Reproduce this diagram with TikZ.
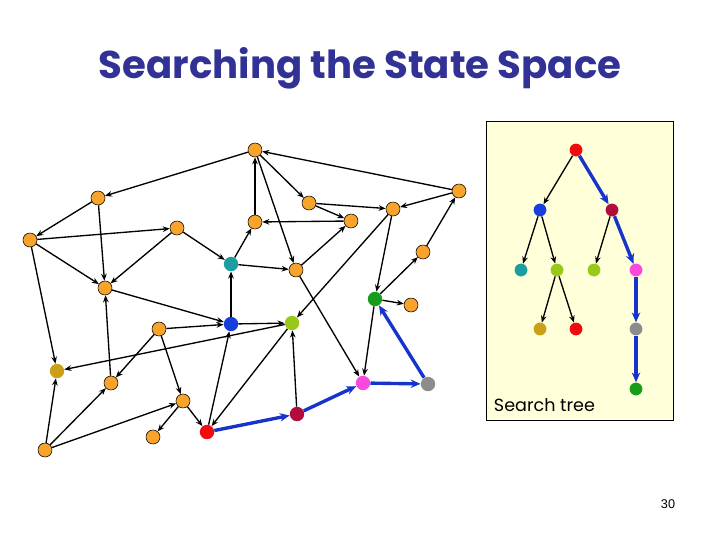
\documentclass[tikz,border=0pt]{standalone}
\usepackage{fontspec}
\setmainfont{Poppins}
\newfontfamily\numfont{Liberation Sans}
\usetikzlibrary{arrows.meta}
\definecolor{corange}{RGB}{248,164,44}
\definecolor{cteal}{RGB}{28,158,160}
\definecolor{cblue}{RGB}{22,62,222}
\definecolor{cygreen}{RGB}{152,200,24}
\definecolor{cgreen}{RGB}{22,158,26}
\definecolor{colive}{RGB}{204,160,22}
\definecolor{cpink}{RGB}{250,72,222}
\definecolor{cgray}{RGB}{140,140,140}
\definecolor{ccrim}{RGB}{178,12,60}
\definecolor{cred}{RGB}{240,12,12}
\definecolor{cpath}{RGB}{22,52,204}
\definecolor{cpaper}{RGB}{255,255,218}
\definecolor{ctitle}{RGB}{50,50,150}
\tikzstyle{corg}=[circle, draw, thin, fill=corange, inner sep=0pt, minimum size=0.35cm]
\tikzstyle{cdot}=[circle, inner sep=0pt, minimum size=0.36cm]
\tikzstyle{tdot}=[circle, inner sep=0pt, minimum size=0.32cm]
\tikzstyle{ln}=[line width=0.95pt, -{Stealth[length=5pt,width=4pt]}]
\tikzstyle{blu}=[line width=2.4pt, cpath, -{Stealth[length=7pt,width=6pt]}]

\begin{document}
\begin{tikzpicture}[x=0.025cm, y=-0.025cm]
\useasboundingbox (0,0) rectangle (720,540);

\node[text=ctitle, font=\bfseries\fontsize{27.5}{32}\selectfont] (title) at (360,68) {Searching the State Space};

% state space
\node[corg] (n1) at (255,150) {};
\node[corg] (n2) at (98,198) {};
\node[corg] (n3) at (459,191) {};
\node[corg] (n4) at (30,240) {};
\node[corg] (n5) at (177,228) {};
\node[corg] (n6) at (255,222) {};
\node[corg] (n7) at (309,203) {};
\node[corg] (n8) at (351,221) {};
\node[corg] (n9) at (393,209) {};
\node[cdot, fill=cteal] (n10) at (231,264) {};
\node[corg] (n11) at (296,270) {};
\node[corg] (n12) at (423,252) {};
\node[corg] (n13) at (105,288) {};
\node[cdot, fill=cgreen] (n14) at (375,299) {};
\node[corg] (n15) at (411,305) {};
\node[corg] (n16) at (159,329) {};
\node[cdot, fill=cblue] (n17) at (231,324) {};
\node[cdot, fill=cygreen] (n18) at (292,323) {};
\node[cdot, fill=colive] (n19) at (57,371) {};
\node[corg] (n20) at (111,383) {};
\node[corg] (n21) at (183,401) {};
\node[cdot, fill=cpink] (n22) at (363,383) {};
\node[cdot, fill=cgray] (n23) at (428,384) {};
\node[corg] (n24) at (153,437) {};
\node[cdot, fill=ccrim] (n25) at (297,414) {};
\node[cdot, fill=cred] (n26) at (207,432) {};
\node[corg] (n27) at (45,450) {};

\draw[ln] (n1) -- (n2);
\draw[ln] (n2) -- (n4);
\draw[ln] (n2) -- (n13);
\draw[ln] (n4) -- (n5);
\draw[ln] (n4) -- (n13);
\draw[ln] (n5) -- (n13);
\draw[ln] (n5) -- (n10);
\draw[ln] (n10) -- (n6);
\draw[ln] (n6) -- (n1);
\draw[ln] (n10) -- (n11);
\draw[ln] (n13) -- (n17);
\draw[ln] (n4) -- (n19);
\draw[ln] (n17) -- (n10);
\draw[ln] (n3) -- (n1);
\draw[ln] (n1) -- (n7);
\draw[ln] (n1) -- (n11);
\draw[ln] (n7) -- (n9);
\draw[ln] (n7) -- (n8);
\draw[ln] (n8) -- (n6);
\draw[ln] (n11) -- (n8);
\draw[ln] (n3) -- (n9);
\draw[ln] (n9) -- (n14);
\draw[ln] (n9) -- (n18);
\draw[ln] (n12) -- (n3);
\draw[ln] (n14) -- (n12);
\draw[ln] (n11) -- (n22);
\draw[ln] (n14) -- (n15);
\draw[ln] (n14) -- (n22);
\draw[ln] (n17) -- (n18);
\draw[ln] (n18) -- (n19);
\draw[ln] (n18) -- (n26);
\draw[ln] (n25) -- (n18);
\draw[ln] (n16) -- (n17);
\draw[ln] (n16) -- (n20);
\draw[ln] (n16) -- (n21);
\draw[ln] (n20) -- (n13);
\draw[ln] (n27) -- (n19);
\draw[ln] (n27) -- (n20);
\draw[ln] (n27) -- (n21);
\draw[ln] (n21) -- (n24);
\draw[ln] (n21) -- (n26);
\draw[ln, {Stealth[length=5pt,width=4pt]}-] (n17) -- (n26);

% solution path
\draw[blu] (n26) -- (n25);
\draw[blu] (n25) -- (n22);
\draw[blu] (n22) -- (n23);
\draw[blu, {Stealth[length=7pt,width=6pt]}-] (n14) -- (n23);

% search tree
\draw[thin, fill=cpaper] (486,121) rectangle (673,420);
\node[tdot, fill=cred] (t1) at (576,150) {};
\node[tdot, fill=cblue] (t2) at (540,210) {};
\node[tdot, fill=ccrim] (t3) at (612,210) {};
\node[tdot, fill=cteal] (t4) at (521,270) {};
\node[tdot, fill=cygreen] (t5) at (557,270) {};
\node[tdot, fill=cygreen] (t6) at (594,270) {};
\node[tdot, fill=cpink] (t7) at (636,270) {};
\node[tdot, fill=colive] (t8) at (540,329) {};
\node[tdot, fill=cred] (t9) at (576,329) {};
\node[tdot, fill=cgray] (t10) at (636,329) {};
\node[tdot, fill=cgreen] (t11) at (636,389) {};

\draw[ln] (t1) -- (t2);
\draw[ln] (t2) -- (t4);
\draw[ln] (t2) -- (t5);
\draw[ln] (t3) -- (t6);
\draw[ln] (t5) -- (t8);
\draw[ln] (t5) -- (t9);
\draw[blu] (t1) -- (t3);
\draw[blu] (t3) -- (t7);
\draw[blu] (t7) -- (t10);
\draw[blu] (t10) -- (t11);

\node[anchor=west, font=\fontsize{12.5}{14}\selectfont] (cap) at (489,405) {Search tree};
\node[font=\numfont\fontsize{9}{11}\selectfont] (page) at (668,504) {30};
\end{tikzpicture}
\end{document}
